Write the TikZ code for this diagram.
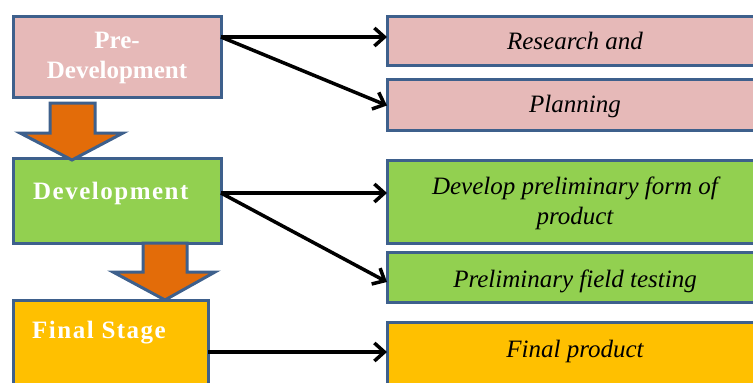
\documentclass[tikz,border=0pt]{standalone}
\usepackage{fontspec}
\setmainfont{Liberation Serif}
\usetikzlibrary{arrows.meta}
\definecolor{bordc}{RGB}{62,96,140}
\definecolor{pinkc}{RGB}{230,185,184}
\definecolor{greenc}{RGB}{146,208,80}
\definecolor{goldc}{RGB}{255,192,0}
\definecolor{orangec}{RGB}{227,108,9}
\tikzset{
  box/.style={draw=bordc, line width=3pt, inner sep=0pt, outer sep=0pt},
  lefttext/.style={text=white, font=\fontsize{25}{30}\selectfont\bfseries, inner sep=0pt, align=center},
  spaced/.style={font=\fontsize{25}{30}\selectfont\bfseries\addfontfeature{LetterSpace=6}},
  righttext/.style={text=black, font=\fontsize{25}{30}\selectfont\itshape, inner sep=0pt, align=center},
  conn/.style={draw=black, line width=3.5pt, -{Straight Barb[length=10pt,width=18pt,line width=3.5pt]}},
  blockarrow/.style={fill=orangec, draw=bordc, line width=3pt, line join=miter},
}
\begin{document}
\begin{tikzpicture}[x=1pt,y=-1pt]
\useasboundingbox (0,0) rectangle (753,383);
\clip (0,0) rectangle (753,383);
% left boxes
\node[box, fill=pinkc, minimum width=208pt, minimum height=81pt] (pre) at (117,56.5) {};
\node[box, fill=greenc, minimum width=208pt, minimum height=85pt] (dev) at (117,200.5) {};
\node[box, fill=goldc, minimum width=195pt, minimum height=95pt] (fin) at (110.5,347.5) {};
% right boxes
\node[box, fill=pinkc, minimum width=376pt, minimum height=49pt] (res) at (575,40.5) {};
\node[box, fill=pinkc, minimum width=376pt, minimum height=51pt] (plan) at (575,104.5) {};
\node[box, fill=greenc, minimum width=376pt, minimum height=83pt] (devp) at (575,201.5) {};
\node[box, fill=greenc, minimum width=376pt, minimum height=50pt] (field) at (575,277) {};
\node[box, fill=goldc, minimum width=376pt, minimum height=73pt] (finp) at (575,358.5) {};
% block arrows
\draw[blockarrow] (50,103) -- (95,103) -- (95,133) -- (123,133) -- (72,160) -- (20,133) -- (50,133) -- cycle;
\draw[blockarrow] (143,243) -- (187,243) -- (187,272) -- (215,272) -- (165,300) -- (113,272) -- (143,272) -- cycle;
% texts
\node[lefttext] (pretext) at (117,58) {Pre-\\Development};
\node[lefttext, spaced, anchor=base west] (devtext) at (33,199) {Development};
\node[lefttext, spaced, anchor=base west] (fintext) at (32,338) {Final Stage};
\node[righttext, anchor=base] (restext) at (575,49) {Research and};
\node[righttext, anchor=base] (plantext) at (575,112) {Planning};
\node[righttext] (devptext) at (575,203) {Develop preliminary form of\\product};
\node[righttext, anchor=base] (fieldtext) at (575,287) {Preliminary field testing};
\node[righttext, anchor=base] (finptext) at (575,357) {Final product};
% connectors
\coordinate (s1) at (221,37);
\coordinate (s2) at (221,193);
\coordinate (s3) at (208,352);
\draw[conn] (s1) -- (res.west |- s1);
\draw[conn] (s1) -- ([yshift=-1pt]plan.west);
\draw[conn] (s2) -- (devp.west |- s2);
\draw[conn] (s2) -- ([yshift=-5pt]field.west);
\draw[conn] (s3) -- (finp.west |- s3);
\end{tikzpicture}
\end{document}
